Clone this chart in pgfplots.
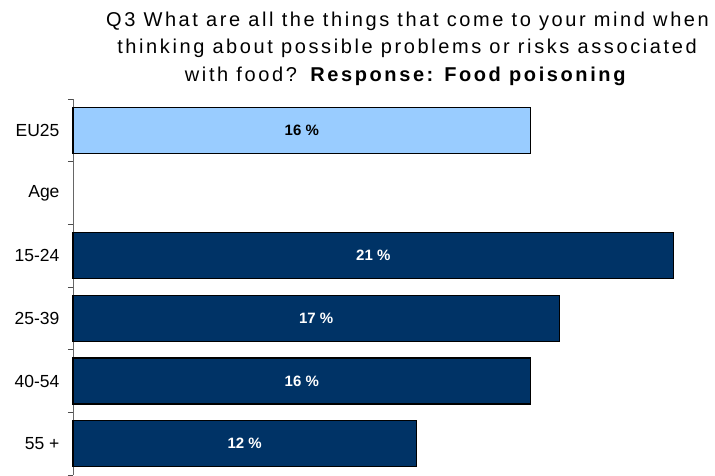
\documentclass[border=0pt]{standalone}
\usepackage{fontspec}
\setmainfont{Liberation Sans}
\usepackage{pgfplots}
\pgfplotsset{compat=1.18}
\definecolor{lightbar}{RGB}{153,204,255}
\definecolor{darkbar}{RGB}{0,51,102}
\begin{document}
\begin{tikzpicture}
\path[use as bounding box] (-73pt,0pt) rectangle (642pt,475pt);
\begin{axis}[
  at={(0pt,0pt)}, anchor=south west,
  scale only axis,
  x=28.6pt, xmin=0, xmax=22.45,
  height=376pt,
  ymin=-0.5, ymax=5.5, y dir=reverse,
  axis x line=none,
  axis y line*=left,
  y axis line style={draw=black!60, line width=0.8pt},
  ytick={0,1,2,3,4,5},
  yticklabels={EU25, Age, 15-24, 25-39, 40-54, 55 +},
  major tick length=0pt,
  minor ytick={-0.5,0.5,1.5,2.5,3.5,4.5,5.5},
  minor tick length=5pt,
  tick align=outside,
  tick style={draw=black!70, line width=0.8pt},
  yticklabel style={font=\fontsize{17.5}{19}\selectfont, anchor=east, xshift=-10pt},
  /pgf/number format/assume math mode=true,
  xbar, bar width=46pt, bar shift=0pt,
  clip=false,
  point meta=x,
  visualization depends on={x \as \rawx},
  nodes near coords={\pgfmathprintnumber{\pgfplotspointmeta} \%},
  every node near coord/.append style={anchor=center, xshift={-0.5*\rawx*28.6pt}, font=\bfseries\fontsize{15}{17}\selectfont},
]
\addplot[fill=lightbar, draw=black, line width=1.2pt, every node near coord/.append style={text=black}] coordinates {(16,0)};
\addplot[fill=darkbar, draw=black, line width=1.2pt, every node near coord/.append style={text=white}] coordinates {(21,2) (17,3) (16,4) (12,5)};
\end{axis}
\begin{scope}[every node/.style={anchor=base, inner sep=0pt, font=\fontsize{20}{24}\selectfont\addfontfeatures{LetterSpace=13}}]
\node at (334.5pt,448pt) {Q3 What are all the things that come to your mind when};
\node at (334pt,421pt) {thinking about possible problems or risks associated};
\node at (333.5pt,393pt) {with food? \textbf{Response: Food poisoning}};
\end{scope}
\end{tikzpicture}
\end{document}
